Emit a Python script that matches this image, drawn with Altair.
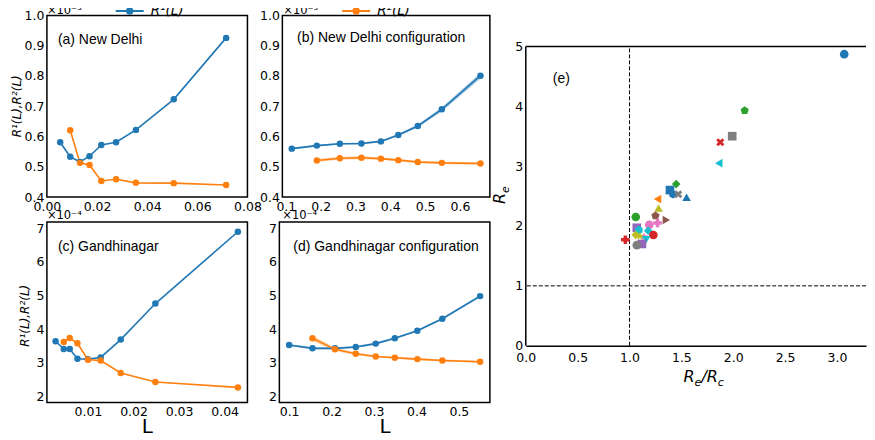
import math
import altair as alt
import pandas as pd

# ---------------- data ----------------
# (a) New Delhi
a_L1 = [0.0053, 0.0093, 0.0132, 0.0170, 0.0217, 0.0276, 0.0355, 0.0506, 0.0715]
a_R1 = [0.581, 0.533, 0.516, 0.535, 0.572, 0.581, 0.622, 0.723, 0.926]
a_L2 = [0.0093, 0.0132, 0.0170, 0.0217, 0.0276, 0.0355, 0.0506, 0.0715]
a_R2 = [0.621, 0.513, 0.506, 0.453, 0.459, 0.447, 0.446, 0.440]

# (b) New Delhi configuration
b_L1 = [0.117, 0.189, 0.255, 0.317, 0.373, 0.423, 0.479, 0.548, 0.659]
b_R1 = [0.560, 0.570, 0.576, 0.577, 0.584, 0.605, 0.635, 0.690, 0.801]
b_E1 = [0.003, 0.003, 0.003, 0.003, 0.003, 0.004, 0.005, 0.007, 0.010]
b_L2 = [0.189, 0.255, 0.317, 0.373, 0.423, 0.479, 0.548, 0.659]
b_R2 = [0.521, 0.528, 0.530, 0.527, 0.522, 0.516, 0.513, 0.511]
b_E2 = [0.005, 0.005, 0.005, 0.004, 0.004, 0.004, 0.004, 0.004]

# (c) Gandhinagar
c_L1 = [0.0029, 0.0047, 0.0060, 0.0077, 0.0100, 0.0128, 0.0172, 0.0248, 0.0429]
c_R1 = [3.64, 3.41, 3.41, 3.12, 3.11, 3.16, 3.69, 4.76, 6.89]
c_L2 = [0.0047, 0.0060, 0.0077, 0.0100, 0.0128, 0.0172, 0.0248, 0.0429]
c_R2 = [3.62, 3.74, 3.58, 3.09, 3.07, 2.70, 2.43, 2.27]

# (d) Gandhinagar configuration
d_L1 = [0.100, 0.155, 0.208, 0.257, 0.304, 0.349, 0.402, 0.461, 0.550]
d_R1 = [3.53, 3.43, 3.43, 3.47, 3.57, 3.73, 3.95, 4.31, 4.98]
d_E1 = [0.03, 0.03, 0.03, 0.03, 0.03, 0.03, 0.03, 0.03, 0.04]
d_L2 = [0.155, 0.208, 0.257, 0.304, 0.349, 0.402, 0.461, 0.550]
d_R2 = [3.73, 3.40, 3.27, 3.19, 3.15, 3.11, 3.07, 3.03]
d_E2 = [0.08, 0.05, 0.04, 0.03, 0.03, 0.03, 0.03, 0.03]

# (e) Re vs Re/Rc
e_x = [3.07, 2.11, 1.99, 1.875, 1.86, 1.45, 1.39, 1.42, 1.47, 1.55, 1.27, 1.28, 1.06, 1.25,
       1.355, 1.27, 1.19, 1.07, 1.09, 1.18, 1.23, 0.96, 1.06, 1.14, 1.16, 1.12, 1.07, 1.10]
e_y = [4.87, 3.93, 3.50, 3.40, 3.05, 2.70, 2.60, 2.53, 2.53, 2.48, 2.45, 2.30, 2.15, 2.17,
       2.10, 2.05, 2.02, 1.97, 1.93, 1.92, 1.85, 1.77, 1.85, 1.82, 1.77, 1.70, 1.68, 1.83]
e_col = ["C0", "C2", "C7", "C3", "C9", "C2", "C0", "C0", "C7", "C0", "C1", "C8", "C2", "C5",
         "C5", "C6", "C6", "C4", "C9", "C9", "C3", "C3", "C8", "C6", "C9", "C4", "C7", "C8"]
e_mark = ["o", "p", "s", "X", "<", "D", "s", "h", "X", "^", "<", "^", "o", "p",
          ">", "P", "o", "s", "h", "D", "o", "P", "D", "*", "v", "s", "o", "*"]

# ---------------- styling ----------------
BLUE, ORANGE = "#1f77b4", "#ff7f0e"
TAB10 = ["#1f77b4", "#ff7f0e", "#2ca02c", "#d62728", "#9467bd",
         "#8c564b", "#e377c2", "#7f7f7f", "#bcbd22", "#17becf"]


def poly(points):
    return "M" + "L".join(f"{x:.3f},{y:.3f}" for x, y in points) + "Z"


_w = 0.33
_cross = [(-_w, -1), (_w, -1), (_w, -_w), (1, -_w), (1, _w), (_w, _w), (_w, 1),
          (-_w, 1), (-_w, _w), (-1, _w), (-1, -_w), (-_w, -_w)]
X_PATH = poly([((x - y) / math.sqrt(2), (x + y) / math.sqrt(2)) for x, y in _cross])
PENT = poly([(math.sin(2 * math.pi * k / 5), -math.cos(2 * math.pi * k / 5)) for k in range(5)])
HEX = poly([(math.sin(2 * math.pi * k / 6), -math.cos(2 * math.pi * k / 6)) for k in range(6)])
STAR = poly([((1.0 if k % 2 == 0 else 0.42) * math.sin(math.pi * k / 5),
              -(1.0 if k % 2 == 0 else 0.42) * math.cos(math.pi * k / 5)) for k in range(10)])
MARK_DOMAIN = ["o", "s", "^", "v", "<", ">", "D", "P", "X", "p", "h", "*"]
MARK_RANGE = ["circle", "square", "triangle-up", "triangle-down", "triangle-left",
              "triangle-right", "diamond", "cross", X_PATH, PENT, HEX, STAR]

ONE = pd.DataFrame({"k": [0]})


def long_df(L1, R1, L2, R2, E1=None, E2=None):
    rows = []
    for i, (l, r) in enumerate(zip(L1, R1)):
        e = E1[i] if E1 else 0.0
        rows.append({"L": l, "R": r, "lo": r - e, "hi": r + e, "s": "R1"})
    for i, (l, r) in enumerate(zip(L2, R2)):
        e = E2[i] if E2 else 0.0
        rows.append({"L": l, "R": r, "lo": r - e, "hi": r + e, "s": "R2"})
    return pd.DataFrame(rows)


def text(t, x, y, size=14, font="Liberation Sans", align="left", baseline="middle",
         angle=0, style="normal"):
    kw = dict(text=t, align=align, baseline=baseline, font=font, fontSize=size, color="black")
    if angle:
        kw["angle"] = angle
    if style != "normal":
        kw["fontStyle"] = style
    return alt.Chart(ONE).mark_text(**kw).encode(x=alt.value(x), y=alt.value(y))


def helper(x1, y1, x2, y2):
    # invisible box that fixes the layout extent of a panel
    return alt.Chart(ONE).mark_rule(opacity=0).encode(
        x=alt.value(x1), x2=alt.value(x2), y=alt.value(y1), y2=alt.value(y2))


def legend_item(color, x0, y, label):
    line = alt.Chart(ONE).mark_rule(color=color, strokeWidth=2).encode(
        x=alt.value(x0), x2=alt.value(x0 + 28), y=alt.value(y))
    dot = alt.Chart(ONE).mark_circle(color=color, size=55, opacity=1).encode(
        x=alt.value(x0 + 14), y=alt.value(y))
    lab = text(label, x0 + 35, y, size=13.5, font="DejaVu Sans", style="italic")
    return [line, dot, lab]


def panel(df, xdom, xvals, xfmt, ydom, yvals, yfmt, w, h, band, decor):
    xs = alt.Scale(domain=xdom, nice=False, zero=False)
    ys = alt.Scale(domain=ydom, nice=False, zero=False)
    xa = alt.Axis(values=xvals, format=xfmt, title=None, labelPadding=3)
    ya = alt.Axis(values=yvals, format=yfmt, title=None, labelPadding=3)
    col = alt.Color("s:N", scale=alt.Scale(domain=["R1", "R2"], range=[BLUE, ORANGE]), legend=None)
    base = alt.Chart(df)
    layers = []
    if band:
        layers.append(base.mark_area(opacity=0.35).encode(
            x=alt.X("L:Q", scale=xs, axis=xa), y=alt.Y("lo:Q", scale=ys, axis=ya),
            y2="hi:Q", color=col))
    layers.append(base.mark_line(strokeWidth=1.6).encode(
        x=alt.X("L:Q", scale=xs, axis=xa), y=alt.Y("R:Q", scale=ys, axis=ya), color=col))
    layers.append(base.mark_circle(size=42, opacity=1).encode(
        x=alt.X("L:Q", scale=xs, axis=xa), y=alt.Y("R:Q", scale=ys, axis=ya), color=col))
    return alt.layer(*layers, *decor).properties(width=w, height=h)


YT = "R¹(L),R²(L)"

a = panel(long_df(a_L1, a_R1, a_L2, a_R2), [0, 0.08], [0, 0.02, 0.04, 0.06, 0.08], ".2f",
          [0.4, 1.0], [0.4, 0.5, 0.6, 0.7, 0.8, 0.9, 1.0], ".1f", 201, 182, False,
          [helper(-37, -17, 100, 206),
           *legend_item(BLUE, 69, -4.5, "R¹(L)"),
           text("(a) New Delhi", 11, 24.5),
           text("×10⁻³", 0, -1.5, size=11.5, font="DejaVu Sans", baseline="alphabetic"),
           text("×10⁻⁴", 0, 203.5, size=11.5, font="DejaVu Sans", baseline="alphabetic"),
           text(YT, -30, 91, size=12, font="DejaVu Sans", align="center", angle=270, style="italic")])

b = panel(long_df(b_L1, b_R1, b_L2, b_R2, b_E1, b_E2), [0.09, 0.686],
          [0.1, 0.2, 0.3, 0.4, 0.5, 0.6], ".1f",
          [0.4, 1.0], [0.4, 0.5, 0.6, 0.7, 0.8, 0.9, 1.0], ".1f", 208, 182, True,
          [helper(0, -17, 209, 206),
           *legend_item(ORANGE, 60, -4.5, "R²(L)"),
           text("(b) New Delhi configuration", 14.7, 23),
           text("×10⁻³", 1, -1.5, size=11.5, font="DejaVu Sans", baseline="alphabetic"),
           text("×10⁻⁴", 0, 203.5, size=11.5, font="DejaVu Sans", baseline="alphabetic")])

c = panel(long_df(c_L1, c_R1, c_L2, c_R2), [0.001, 0.045], [0.01, 0.02, 0.03, 0.04], ".2f",
          [1.82, 7.18], [2, 3, 4, 5, 6, 7], "d", 201, 181, False,
          [helper(-37, -1, 100, 150),
           text("(c) Gandhinagar", 11, 25),
           text(YT, -22, 94, size=12, font="DejaVu Sans", align="center", angle=270, style="italic"),
           text("L", 100.5, 205, size=20, font="DejaVu Sans", align="center")])

d = panel(long_df(d_L1, d_R1, d_L2, d_R2, d_E1, d_E2), [0.077, 0.573],
          [0.1, 0.2, 0.3, 0.4, 0.5], ".1f",
          [1.82, 7.18], [2, 3, 4, 5, 6, 7], "d", 211, 181, True,
          [helper(0, -1, 212, 100),
           text("(d) Gandhinagar configuration", 14, 25),
           text("L", 106, 205, size=20, font="DejaVu Sans", align="center")])

# ---------------- panel (e) ----------------
# plot area starts 31 px above the frame top (y=5) so that it lines up with panel (a)
E_TOP = 5 + 31 / 60
edf = pd.DataFrame({"x": e_x, "y": e_y, "c": e_col, "m": e_mark})
ex = alt.Scale(domain=[0, 3.28], nice=False, zero=False)
ey = alt.Scale(domain=[0, E_TOP], nice=False, zero=False)
exa = alt.Axis(values=[0, 0.5, 1.0, 1.5, 2.0, 2.5, 3.0], format=".1f", title=None,
               domain=True, domainColor="black", domainWidth=1.5, labelPadding=6)
eya = alt.Axis(values=[0, 1, 2, 3, 4, 5], format="d", title=None, labelPadding=3)

frame_df = pd.DataFrame({"x0": [0.0], "x1": [1.0], "y0": [0.0], "y1": [5.0]})
leftline = alt.Chart(frame_df).mark_rule(color="black", strokeWidth=1.5).encode(
    x=alt.X("x0:Q", scale=ex, axis=exa), y=alt.Y("y0:Q", scale=ey, axis=eya), y2="y1:Q")
vline = alt.Chart(frame_df).mark_rule(color="black", strokeWidth=1, strokeDash=[4, 2]).encode(
    x=alt.X("x1:Q", scale=ex, axis=exa), y=alt.Y("y0:Q", scale=ey, axis=eya), y2="y1:Q")
hline = alt.Chart(frame_df).mark_rule(color="black", strokeWidth=1, strokeDash=[4, 2]).encode(
    y=alt.Y("x1:Q", scale=ey, axis=eya))
topline = alt.Chart(frame_df).mark_rule(color="black", strokeWidth=1.5).encode(
    y=alt.Y("y1:Q", scale=ey, axis=eya))
pts = alt.Chart(edf).mark_point(filled=True, opacity=1, size=75).encode(
    x=alt.X("x:Q", scale=ex, axis=exa),
    y=alt.Y("y:Q", scale=ey, axis=eya),
    color=alt.Color("c:N", scale=alt.Scale(domain=[f"C{i}" for i in range(10)], range=TAB10), legend=None),
    shape=alt.Shape("m:N", scale=alt.Scale(domain=MARK_DOMAIN, range=MARK_RANGE), legend=None),
)

e = alt.layer(
    vline, hline, topline, leftline, pts,
    helper(-34, 0, 100, 100),
    text("(e)", 27, 64),
    # y title  R_e
    text("R", -21, 189, size=16, font="DejaVu Sans", baseline="alphabetic", angle=270, style="italic"),
    text("e", -17, 178, size=11, font="DejaVu Sans", baseline="alphabetic", angle=270, style="italic"),
    # x title  R_e / R_c
    text("R", 158, 367, size=16, font="DejaVu Sans", baseline="alphabetic", style="italic"),
    text("e", 169, 371, size=11, font="DejaVu Sans", baseline="alphabetic", style="italic"),
    text("/R", 176, 367, size=16, font="DejaVu Sans", baseline="alphabetic", style="italic"),
    text("c", 192.5, 371, size=11, font="DejaVu Sans", baseline="alphabetic", style="italic"),
).properties(width=341, height=331, view=alt.ViewBackground(strokeWidth=0))

row1 = alt.hconcat(a, b, spacing=35, bounds="flush")
row2 = alt.hconcat(c, d, spacing=32, bounds="flush")
left = alt.vconcat(row1, row2, spacing=-4)

chart = alt.hconcat(left, e, spacing=0).resolve_scale(
    color="independent", shape="independent"
).properties(
    padding={"left": 1, "top": -11, "right": 0, "bottom": 0}
).configure_view(stroke="black", strokeWidth=1.5).configure_axis(
    labelFont="DejaVu Sans", labelFontSize=12.5, labelColor="black", grid=False,
    ticks=False, domain=False, labelFlush=False, labelOverlap=False
)

chart.save("out.html", embed_options={"renderer": "svg", "actions": False})
